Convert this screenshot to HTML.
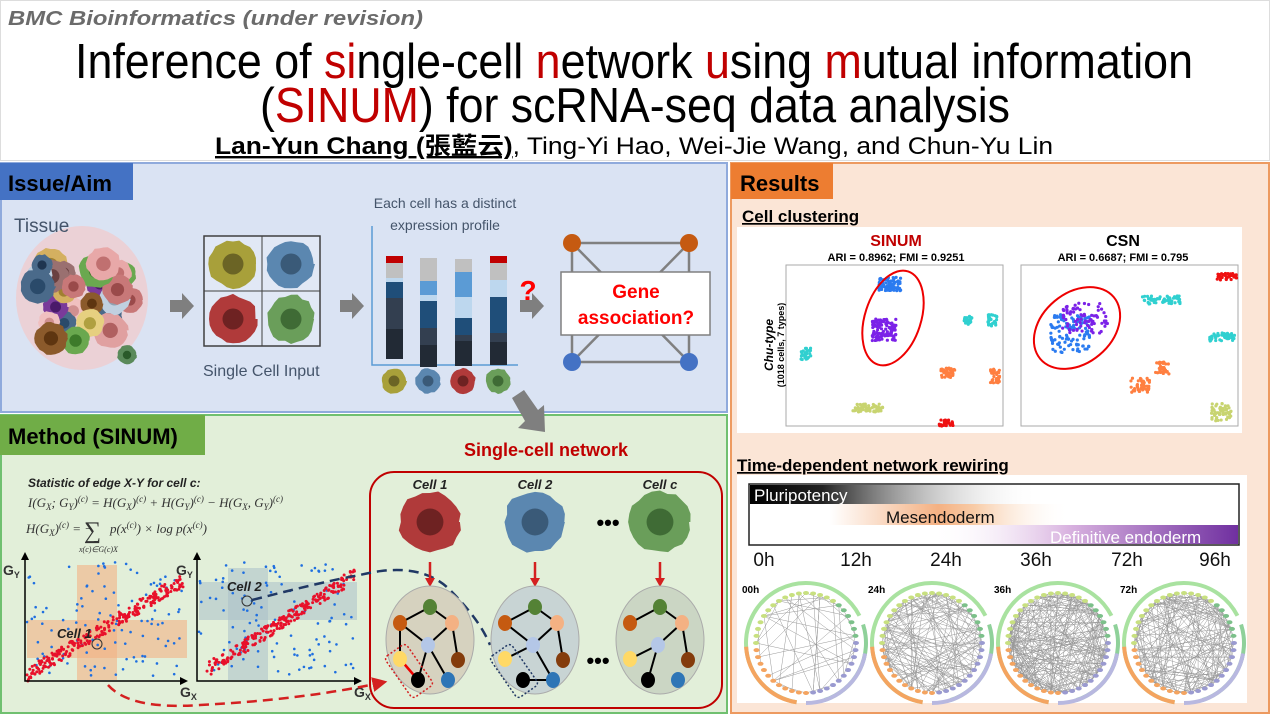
<!DOCTYPE html>
<html><head><meta charset="utf-8"><style>
html,body{margin:0;padding:0;background:#fff;width:1270px;height:714px;overflow:hidden}
svg{display:block;font-family:"Liberation Sans","Noto Sans CJK TC",sans-serif}
</style></head><body>
<svg id="s" width="1270" height="714" viewBox="0 0 1270 714" xmlns="http://www.w3.org/2000/svg">
<defs>
<linearGradient id="gp" x1="0" x2="1"><stop offset="0" stop-color="#000"/><stop offset="0.25" stop-color="#222"/><stop offset="1" stop-color="#fff" stop-opacity="0"/></linearGradient>
<linearGradient id="gm" x1="0" x2="1"><stop offset="0" stop-color="#f4b183" stop-opacity="0"/><stop offset="0.45" stop-color="#f4b183"/><stop offset="0.6" stop-color="#f8cba6"/><stop offset="1" stop-color="#fff" stop-opacity="0"/></linearGradient>
<linearGradient id="gd" x1="0" x2="1"><stop offset="0" stop-color="#fff" stop-opacity="0"/><stop offset="0.45" stop-color="#d9b3e0"/><stop offset="1" stop-color="#7030a0"/></linearGradient>
<marker id="ar" markerWidth="6" markerHeight="6" refX="3" refY="3" orient="auto"><path d="M0,0L6,3L0,6z" fill="#d42020"/></marker>
</defs>
<rect width="1270" height="714" fill="#fff"/>
<rect x="0.5" y="0.5" width="1269" height="160" fill="#fff" stroke="#ddd"/>
<text x="8" y="25" font-size="20" font-weight="bold" font-style="italic" fill="#6b6b6b" textLength="415" lengthAdjust="spacingAndGlyphs">BMC Bioinformatics (under revision)</text>
<text x="75" y="78" font-size="49" textLength="1118" lengthAdjust="spacingAndGlyphs">Inference of <tspan fill="#c00000">si</tspan>ngle-cell <tspan fill="#c00000">n</tspan>etwork <tspan fill="#c00000">u</tspan>sing <tspan fill="#c00000">m</tspan>utual information</text>
<text x="260" y="122" font-size="49" textLength="750" lengthAdjust="spacingAndGlyphs">(<tspan fill="#c00000">SINUM</tspan>) for scRNA-seq data analysis</text>
<text x="215" y="154" font-size="24" textLength="838" lengthAdjust="spacingAndGlyphs"><tspan font-weight="bold" text-decoration="underline">Lan-Yun Chang (張藍云)</tspan>, Ting-Yi Hao, Wei-Jie Wang, and Chun-Yu Lin</text>

<!-- Issue panel -->
<rect x="1" y="163" width="726" height="249" fill="#dae3f3" stroke="#8faadc" stroke-width="2"/>
<rect x="0" y="163" width="133" height="37" fill="#4472c4"/>
<text x="8" y="191" font-size="22" font-weight="bold">Issue/Aim</text>
<g id="tissue"></g>
<text x="14" y="232" font-size="19" fill="#44546a">Tissue</text>
<path d="M170,300h12v-7l12,13l-12,13v-7h-12z" fill="#7f7f7f"/>
<path d="M340,300h12v-7l12,13l-12,13v-7h-12z" fill="#7f7f7f"/>
<path d="M520,300h12v-7l12,13l-12,13v-7h-12z" fill="#7f7f7f"/>
<rect x="204" y="236" width="116" height="110" fill="#fff" fill-opacity="0.2" stroke="#404040" stroke-width="1.5"/>
<line x1="262" y1="236" x2="262" y2="346" stroke="#404040"/><line x1="204" y1="291" x2="320" y2="291" stroke="#404040"/>
<g id="grid"></g>
<text x="203" y="376" font-size="16" fill="#44546a">Single Cell Input</text>
<text x="445" y="208" font-size="14" fill="#44546a" text-anchor="middle">Each cell has a distinct</text>
<text x="445" y="230" font-size="14" fill="#44546a" text-anchor="middle">expression profile</text>
<path d="M372,226V365H518" fill="none" stroke="#5b9bd5" stroke-width="1.5"/>
<g id="bars"></g>
<text x="528" y="300" font-size="28" font-weight="bold" fill="#ff0000" text-anchor="middle">?</text>
<g stroke="#808080" stroke-width="2.5"><path d="M572,243H689V362H572Z" fill="none"/><line x1="572" y1="243" x2="689" y2="362"/><line x1="689" y1="243" x2="572" y2="362"/></g>
<circle cx="572" cy="243" r="9" fill="#c55a11"/><circle cx="689" cy="243" r="9" fill="#c55a11"/><circle cx="572" cy="362" r="9" fill="#4472c4"/><circle cx="689" cy="362" r="9" fill="#4472c4"/>
<rect x="561" y="272" width="149" height="63" fill="#fff" stroke="#808080" stroke-width="1.5"/>
<text x="636" y="298" font-size="19" font-weight="bold" fill="#ff0000" text-anchor="middle">Gene</text>
<text x="636" y="324" font-size="19" font-weight="bold" fill="#ff0000" text-anchor="middle">association?</text>

<!-- Method panel -->
<rect x="1" y="415" width="726" height="298" fill="#e2efd9" stroke="#70c070" stroke-width="2"/>
<rect x="0" y="415" width="205" height="40" fill="#70ad47"/>
<text x="8" y="444" font-size="22" font-weight="bold">Method (SINUM)</text>
<path d="M512,398L524,390L538,410L544,405L545,432L518,428L525,421Z" fill="#7f7f7f"/>
<text x="546" y="456" font-size="18" font-weight="bold" fill="#c00000" text-anchor="middle">Single-cell network</text>
<rect x="370" y="472" width="352" height="236" rx="24" fill="none" stroke="#c00000" stroke-width="2"/>
<text x="28" y="487" font-size="12" font-weight="bold" font-style="italic" fill="#222">Statistic of edge X-Y for cell c:</text>
<text x="28" y="507" font-size="13" font-style="italic" font-family="Liberation Serif,serif" fill="#333">I(G<tspan font-size="9" dy="3">X</tspan><tspan dy="-3">; G</tspan><tspan font-size="9" dy="3">Y</tspan><tspan dy="-3">)</tspan><tspan font-size="9" dy="-5">(c)</tspan><tspan dy="5"> = H(G</tspan><tspan font-size="9" dy="3">X</tspan><tspan dy="-3">)</tspan><tspan font-size="9" dy="-5">(c)</tspan><tspan dy="5"> + H(G</tspan><tspan font-size="9" dy="3">Y</tspan><tspan dy="-3">)</tspan><tspan font-size="9" dy="-5">(c)</tspan><tspan dy="5"> − H(G</tspan><tspan font-size="9" dy="3">X</tspan><tspan dy="-3">, G</tspan><tspan font-size="9" dy="3">Y</tspan><tspan dy="-3">)</tspan><tspan font-size="9" dy="-5">(c)</tspan></text>
<text x="26" y="533" font-size="13" font-style="italic" font-family="Liberation Serif,serif" fill="#333">H(G<tspan font-size="9" dy="3">X</tspan><tspan dy="-3">)</tspan><tspan font-size="9" dy="-5">(c)</tspan><tspan dy="5"> = −</tspan></text>
<text x="84" y="538" font-size="24" font-family="Liberation Serif,serif" fill="#333">∑</text>
<text x="79" y="552" font-size="8" font-style="italic" font-family="Liberation Serif,serif" fill="#333">x(c)∈G(c)X</text>
<text x="110" y="533" font-size="13" font-style="italic" font-family="Liberation Serif,serif" fill="#333">p(x<tspan font-size="9" dy="-5">(c)</tspan><tspan dy="5">) × log p(x</tspan><tspan font-size="9" dy="-5">(c)</tspan><tspan dy="5">)</tspan></text>
<rect x="77" y="565" width="40" height="115" fill="#f4b183" opacity="0.6"/>
<rect x="27" y="620" width="160" height="38" fill="#f4b183" opacity="0.6"/>
<rect x="228" y="568" width="40" height="112" fill="#a9c0c8" opacity="0.55"/>
<rect x="199" y="582" width="158" height="38" fill="#a9c0c8" opacity="0.55"/>
<g id="scat"></g>
<g stroke="#000" stroke-width="1.5" fill="none"><path d="M25,557V681H183"/><path d="M197,557V681H357"/></g>
<path d="M21,560L25,552L29,560zM180,677L188,681L180,685zM193,560L197,552L201,560zM354,677L362,681L354,685z" fill="#000"/>
<text x="3" y="575" font-size="14" font-weight="bold" fill="#333">G<tspan font-size="9" dy="3">Y</tspan></text>
<text x="176" y="575" font-size="14" font-weight="bold" fill="#333">G<tspan font-size="9" dy="3">Y</tspan></text>
<text x="180" y="697" font-size="14" font-weight="bold" fill="#333">G<tspan font-size="9" dy="3">X</tspan></text>
<text x="354" y="697" font-size="14" font-weight="bold" fill="#333">G<tspan font-size="9" dy="3">X</tspan></text>
<text x="57" y="638" font-size="13" font-weight="bold" font-style="italic" fill="#222">Cell 1</text>
<text x="227" y="591" font-size="13" font-weight="bold" font-style="italic" fill="#222">Cell 2</text>
<circle cx="97" cy="644" r="5" fill="none" stroke="#333"/><circle cx="247" cy="601" r="5" fill="none" stroke="#333"/>
<path d="M252,600Q330,580 360,575Q420,560 450,590Q480,620 490,645" fill="none" stroke="#203864" stroke-width="2.5" stroke-dasharray="10,6"/>
<path d="M108,685Q130,710 200,705Q300,700 380,683" fill="none" stroke="#d42020" stroke-width="2.5" stroke-dasharray="10,6" marker-end="url(#ar)"/>
<g id="cells"></g>
<text x="608" y="530" font-size="22" font-weight="bold" text-anchor="middle">•••</text>
<text x="598" y="668" font-size="22" font-weight="bold" text-anchor="middle">•••</text>
<g id="nets"></g>

<!-- Results -->
<rect x="731" y="163" width="538" height="550" fill="#fbe5d6" stroke="#ed9a60" stroke-width="2"/>
<rect x="731" y="163" width="102" height="36" fill="#ed7d31"/>
<text x="740" y="191" font-size="22" font-weight="bold">Results</text>
<text x="742" y="222" font-size="17" font-weight="bold" text-decoration="underline">Cell clustering</text>
<rect x="737" y="227" width="505" height="206" fill="#fff"/>
<text x="896" y="246" font-size="16" font-weight="bold" fill="#c00000" text-anchor="middle">SINUM</text>
<text x="896" y="261" font-size="11" font-weight="bold" text-anchor="middle">ARI = 0.8962; FMI = 0.9251</text>
<text x="1123" y="246" font-size="16" font-weight="bold" text-anchor="middle">CSN</text>
<text x="1123" y="261" font-size="11" font-weight="bold" text-anchor="middle">ARI = 0.6687; FMI = 0.795</text>
<rect x="786" y="265" width="217" height="161" fill="none" stroke="#aaa"/>
<rect x="1021" y="265" width="217" height="161" fill="none" stroke="#aaa"/>
<text transform="translate(773,345) rotate(-90)" font-size="12" font-style="italic" font-weight="bold" text-anchor="middle">Chu-type</text>
<text transform="translate(784,345) rotate(-90)" font-size="9" font-weight="bold" text-anchor="middle">(1018 cells, 7 types)</text>
<g id="tsne" font-size="5" fill="#666"></g>
<ellipse cx="893" cy="318" rx="28" ry="49" transform="rotate(18 893 318)" fill="none" stroke="#e00" stroke-width="2"/>
<ellipse cx="1077" cy="328" rx="35" ry="48" transform="rotate(50 1077 328)" fill="none" stroke="#e00" stroke-width="2"/>
<text x="737" y="471" font-size="17" font-weight="bold" text-decoration="underline">Time-dependent network rewiring</text>
<rect x="737" y="475" width="510" height="228" fill="#fff"/>
<rect x="749" y="484" width="490" height="61" fill="#fff" stroke="#222" stroke-width="1.5"/>
<rect x="750" y="485" width="290" height="19" fill="url(#gp)"/>
<rect x="830" y="504" width="240" height="21" fill="url(#gm)"/>
<rect x="930" y="525" width="308" height="19" fill="url(#gd)"/>
<text x="754" y="501" font-size="17" fill="#fff">Pluripotency</text>
<text x="886" y="523" font-size="17" fill="#111">Mesendoderm</text>
<text x="1050" y="543" font-size="17" fill="#fff">Definitive endoderm</text>
<g font-size="19" text-anchor="middle" fill="#111"><text x="764" y="566">0h</text><text x="856" y="566">12h</text><text x="946" y="566">24h</text><text x="1036" y="566">36h</text><text x="1127" y="566">72h</text><text x="1215" y="566">96h</text></g>
<g id="circ"></g>
</svg>
<script>
var S=document.getElementById('s'),NS='http://www.w3.org/2000/svg';
var seed=7;function R(){seed=(seed*16807)%2147483647;return seed/2147483647;}
function el(p,t,a){var e=document.createElementNS(NS,t);for(var k in a)e.setAttribute(k,a[k]);p.appendChild(e);return e;}
function g(id){return document.getElementById(id);}
function blob(p,cx,cy,r,c,nc){var d='';for(var i=0;i<=24;i++){var a=i/24*6.283,rr=r*(0.9+0.12*R());d+=(i?'L':'M')+(cx+rr*Math.cos(a)).toFixed(1)+','+(cy+rr*Math.sin(a)).toFixed(1);}el(p,'path',{d:d+'Z',fill:c});el(p,'circle',{cx:cx,cy:cy,r:r*0.42,fill:nc});}
var t=g('tissue');el(t,'ellipse',{cx:82,cy:298,rx:66,ry:72,fill:'#f2c9c9',opacity:0.7});
var tc=[['#c87878','#9a4a4a'],['#6aa84f','#3d7a2a'],['#8b5a2b','#5e3510'],['#4a6a8a','#2a4a6a'],['#7a3a9a','#4a1a6a'],['#e0a0a0','#b06060'],['#d4b060','#a08030'],['#9a7070','#6a4040'],['#c0d0e0','#90a0b0'],['#e6d080','#b0a040'],['#f0c0c0','#d09090'],['#e8a8a8','#c07070']];
for(var i=0;i<28;i++){var a=R()*6.28,rr=Math.sqrt(R())*50;var c=tc[i%tc.length];blob(t,82+rr*Math.cos(a),300+rr*Math.sin(a),11+R()*8,c[0],c[1]);}
blob(t,42,265,11,'#4a6a8a','#1f3550');blob(t,127,355,10,'#5a8a5a','#2a5a2a');
var cc=[['#a8a03a','#6b6425'],['#5b87b0','#3a5a78'],['#b03a3a','#6e2222'],['#6a9e5a','#3f6b35']];
var gg=g('grid');blob(gg,233,264,25,cc[0][0],cc[0][1]);blob(gg,291,264,25,cc[1][0],cc[1][1]);blob(gg,233,319,25,cc[2][0],cc[2][1]);blob(gg,291,319,25,cc[3][0],cc[3][1]);
var b=g('bars'),bx=[386,420,455,490];
var segs=[[['#c00000',7],['#c0c0c0',15],['#bdd7ee',4],['#1f4e79',16],['#333f50',31],['#222a35',30]],[['#c0c0c0',23],['#5b9bd5',14],['#bdd7ee',6],['#1f4e79',27],['#333f50',17],['#222a35',22]],[['#c0c0c0',13],['#5b9bd5',25],['#bdd7ee',21],['#1f4e79',17],['#333f50',6],['#222a35',25]],[['#c00000',7],['#c0c0c0',17],['#bdd7ee',17],['#1f4e79',36],['#333f50',9],['#222a35',23]]];
for(var i=0;i<4;i++){var y=[256,258,259,256][i];segs[i].forEach(function(s){el(b,'rect',{x:bx[i],y:y,width:17,height:s[1],fill:s[0]});y+=s[1];});blob(b,bx[i]+8,381,13,cc[i][0],cc[i][1]);}
var sc=g('scat');
for(var k=0;k<2;k++){var ox=k?199:27,w=156;
for(var i=0;i<110;i++)el(sc,'circle',{cx:ox+R()*w,cy:562+R()*115,r:1.3,fill:'#1f6fe0'});
for(var i=0;i<260;i++){var u=R();var x=ox+u*w,y=675-u*(k?100:95)+(R()-0.5)*14;if(k&&u<0.05)continue;el(sc,'circle',{cx:x,cy:y,r:1.5,fill:'#e8102a'});}}
var ce=g('cells'),cx=[430,535,660],lab=['Cell 1','Cell 2','Cell c'];
for(var i=0;i<3;i++){var c=[cc[2],cc[1],cc[3]][i];blob(ce,cx[i],522,32,c[0],c[1]);el(ce,'text',{x:cx[i],y:489,'font-size':13,'font-weight':'bold','font-style':'italic','text-anchor':'middle',fill:'#222'}).textContent=lab[i];
el(ce,'line',{x1:cx[i],y1:562,x2:cx[i],y2:580,stroke:'#d42020','stroke-width':2.5});el(ce,'path',{d:'M'+(cx[i]-5)+',578L'+cx[i]+',587L'+(cx[i]+5)+',578z',fill:'#d42020'});}
var n=g('nets'),bg=['#d6d2bf','#c8d4d4','#cbd6c4'];
var nodes=[[0,-33,'#548235'],[-30,-17,'#c55a11'],[22,-17,'#f4b183'],[-2,5,'#b4c7e7'],[-30,19,'#ffd966'],[28,20,'#843c0c'],[-12,40,'#000'],[18,40,'#2e75b6']];
var E=[[[0,1],[0,2],[1,3],[2,3],[2,5],[3,6],[3,7],[1,4],[4,6]],[[0,1],[0,2],[2,3],[1,3],[2,5],[3,4],[3,7],[6,7]],[[0,1],[0,2],[2,3],[3,4],[3,6],[2,5]]];
for(var i=0;i<3;i++){var X=cx[i],Y=640;el(n,'ellipse',{cx:X,cy:Y,rx:44,ry:54,fill:bg[i],stroke:'#aaa'});
E[i].forEach(function(e){el(n,'line',{x1:X+nodes[e[0]][0],y1:Y+nodes[e[0]][1],x2:X+nodes[e[1]][0],y2:Y+nodes[e[1]][1],stroke:'#000','stroke-width':2});});
if(i==0)el(n,'line',{x1:X-30,y1:Y+19,x2:X-12,y2:Y+40,stroke:'#e00','stroke-width':2.5});
nodes.forEach(function(d){el(n,'ellipse',{cx:X+d[0],cy:Y+d[1],rx:7,ry:8,fill:d[2]});});}
el(n,'rect',{x:396,y:646,width:26,height:50,rx:4,transform:'rotate(-35 409 671)',fill:'none',stroke:'#d42020','stroke-dasharray':'2,2','stroke-width':1.5});
el(n,'rect',{x:501,y:646,width:26,height:50,rx:4,transform:'rotate(-35 514 671)',fill:'none',stroke:'#203864','stroke-dasharray':'2,2','stroke-width':1.5});
var ts=g('tsne');
function cl(x0,y0,sx,sy,c,nn){for(var i=0;i<nn;i++)el(ts,'circle',{cx:x0+(R()-0.5)*sx,cy:y0+(R()-0.5)*sy,r:1.6,fill:c});}
cl(890,284,22,14,'#2b7bf0',90);cl(884,330,24,22,'#7b22e8',110);cl(968,320,8,10,'#30d0d0',25);cl(993,320,10,12,'#30d0d0',30);cl(806,354,10,12,'#30d0d0',30);cl(948,373,14,10,'#ff7f40',40);cl(995,376,9,14,'#ff7f40',35);cl(868,408,30,8,'#c8d470',60);cl(946,423,14,6,'#ee1010',30);
cl(1070,333,40,40,'#2b7bf0',110);cl(1085,318,45,30,'#7b22e8',80);cl(1160,300,40,8,'#30d0d0',60);cl(1222,337,25,8,'#30d0d0',45);cl(1227,277,20,7,'#ee1010',40);cl(1140,385,20,15,'#ff7f40',45);cl(1162,368,14,12,'#ff7f40',35);cl(1221,412,20,18,'#c8d470',55);
var ci=g('circ'),cxs=[806,932,1058,1184],lbl=['00h','24h','36h','72h'],ne=[45,140,230,170];
for(var i=0;i<4;i++){var X=cxs[i],Y=643;
function arc(a0,a1,r,col){var p='M'+(X+r*Math.cos(a0))+','+(Y+r*Math.sin(a0))+'A'+r+','+r+' 0 '+((a1-a0)>Math.PI?1:0)+' 1 '+(X+r*Math.cos(a1))+','+(Y+r*Math.sin(a1));el(ci,'path',{d:p,fill:'none',stroke:col,'stroke-width':4});}
arc(Math.PI*0.55,Math.PI*1.85,60,'#a9e2a0');arc(Math.PI*1.9,Math.PI*2.4,60,'#8fd19a');arc(Math.PI*0.55,Math.PI*0.98,60,'#f4a460');arc(Math.PI*0.04+0.05,Math.PI*0.5,60,'#b8b8e0');
var pts=[];for(var k=0;k<44;k++){var a=k/44*6.283;pts.push([X+50*Math.cos(a),Y+50*Math.sin(a)]);}
for(var k=0;k<ne[i];k++){var p=pts[Math.floor(R()*44)],q=pts[Math.floor(R()*44)];el(ci,'line',{x1:p[0],y1:p[1],x2:q[0],y2:q[1],stroke:'#999','stroke-width':0.5});}
pts.forEach(function(p,k){var a=k/44;var col=a<0.25?'#9a9ad0':a<0.5?'#f4a460':a<0.85?'#c8e080':'#7cc08a';el(ci,'ellipse',{cx:p[0],cy:p[1],rx:3,ry:2,fill:col});});
el(ci,'text',{x:X-64,y:593,'font-size':10,'font-weight':'bold'}).textContent=lbl[i];}
</script>
</body></html>
